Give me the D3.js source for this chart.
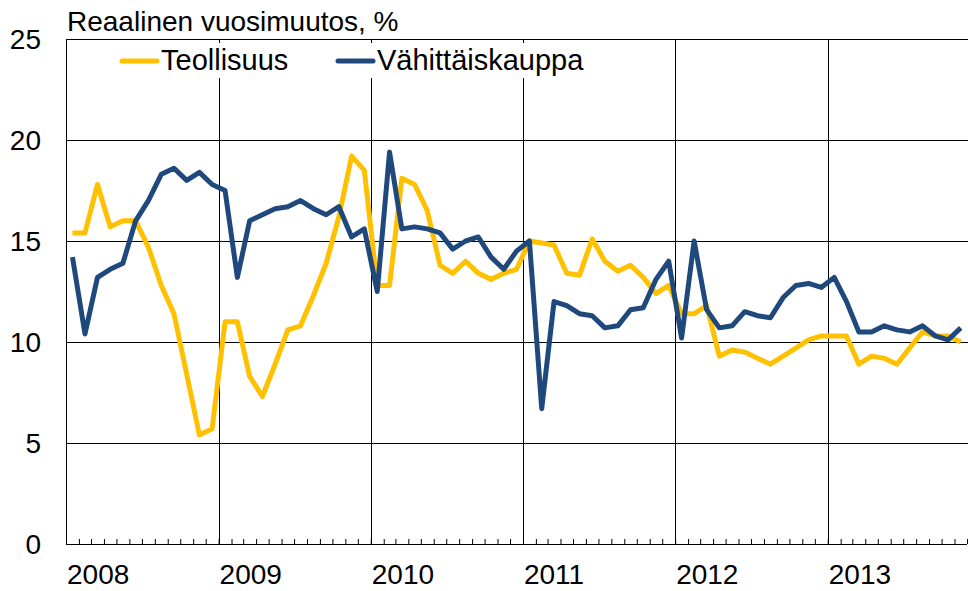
<!DOCTYPE html>
<html>
<head>
<meta charset="utf-8">
<script src="https://cdn.jsdelivr.net/npm/d3@7"></script>
<style>
  body { margin: 0; background: #fff; }
  svg text { font-family: "Liberation Sans", Arial, sans-serif; fill: #000; }
</style>
</head>
<body>
<svg id="chart" width="968" height="591"></svg>
<script>
// monthly data, Jan 2008 - Nov 2013
var startYear = 2008;
var yearLabels = ["2008", "2009", "2010", "2011", "2012", "2013"];
var yTicks = [0, 5, 10, 15, 20, 25];
var seriesNames = ["Teollisuus", "Vähittäiskauppa"];

var teollisuus = [
  15.4, 15.4, 17.8, 15.7, 16.0, 16.0, 14.7, 12.8, 11.4, 8.4, 5.4, 5.7,
  11.0, 11.0, 8.3, 7.3, 8.9, 10.6, 10.8, 12.3, 13.9, 16.2, 19.2, 18.5,
  12.8, 12.8, 18.1, 17.8, 16.5, 13.8, 13.4, 14.0, 13.4, 13.1, 13.4, 13.6,
  15.0, 14.9, 14.8, 13.4, 13.3, 15.1, 14.0, 13.5, 13.8, 13.2, 12.4, 12.8,
  11.4, 11.4, 11.8, 9.3, 9.6, 9.5, 9.2, 8.9, 9.3, 9.7, 10.1, 10.3,
  10.3, 10.3, 8.9, 9.3, 9.2, 8.9, 9.7, 10.5, 10.3, 10.3, 10.0
];

var vahittaiskauppa = [
  14.2, 10.4, 13.2, 13.6, 13.9, 16.0, 17.0, 18.3, 18.6, 18.0, 18.4, 17.8,
  17.5, 13.2, 16.0, 16.3, 16.6, 16.7, 17.0, 16.6, 16.3, 16.7, 15.2, 15.6,
  12.5, 19.4, 15.6, 15.7, 15.6, 15.4, 14.6, 15.0, 15.2, 14.2, 13.6, 14.5,
  15.0, 6.7, 12.0, 11.8, 11.4, 11.3, 10.7, 10.8, 11.6, 11.7, 13.1, 14.0,
  10.2, 15.0, 11.6, 10.7, 10.8, 11.5, 11.3, 11.2, 12.2, 12.8, 12.9, 12.7,
  13.2, 12.0, 10.5, 10.5, 10.8, 10.6, 10.5, 10.8, 10.3, 10.1, 10.7
];

var colors = ["#ffc000", "#1f497d"];

var svg = d3.select("#chart");
var margin = {left: 66, right: 1, top: 39, bottom: 47};
var width = 968 - margin.left - margin.right,
    height = 591 - margin.top - margin.bottom;

var g = svg.append("g")
    .attr("transform", "translate(" + margin.left + "," + margin.top + ")");

var x = d3.scaleTime()
    .domain([new Date(startYear, 0, 1), new Date(startYear, teollisuus.length, 1)])
    .range([0, width]);
var y = d3.scaleLinear().domain([0, 25]).range([height, 0]);

// mid-month positions
var midMonth = function(i) {
  var a = new Date(startYear, i, 1), b = new Date(startYear, i + 1, 1);
  return (x(a) + x(b)) / 2;
};

// horizontal gridlines
g.append("g")
  .selectAll("line")
  .data(yTicks.slice(1))
  .enter().append("line")
    .attr("x1", 0).attr("x2", width + 1)
    .attr("y1", function(d) { return Math.round(y(d)) + 0.5; })
    .attr("y2", function(d) { return Math.round(y(d)) + 0.5; })
    .attr("stroke", "#000").attr("stroke-width", 1);

// vertical year lines
var years = yearLabels.map(function(d) { return new Date(+d, 0, 1); });
g.append("g")
  .selectAll("line")
  .data(years.slice(1))
  .enter().append("line")
    .attr("x1", function(d) { return Math.round(x(d)) + 0.5; })
    .attr("x2", function(d) { return Math.round(x(d)) + 0.5; })
    .attr("y1", 0).attr("y2", height)
    .attr("stroke", "#000").attr("stroke-width", 1);

// x axis with inward month ticks
var xAxis = d3.axisBottom(x)
    .ticks(d3.timeMonth.every(1))
    .tickSize(-5)
    .tickFormat("");
var xg = g.append("g")
    .attr("transform", "translate(0," + height + ")")
    .call(xAxis);
xg.select(".domain").attr("stroke", "#000").attr("d", "M0,0.5H" + width);
xg.selectAll(".tick line").attr("stroke", "#000");

g.append("line")
    .attr("x1", 0.5).attr("x2", 0.5).attr("y1", 0).attr("y2", height)
    .attr("stroke", "#000");

// year labels, left aligned at year start
g.append("g")
  .selectAll("text")
  .data(years)
  .enter().append("text")
    .attr("x", function(d) { return x(d) + 1; })
    .attr("y", height + 40)
    .style("font-size", "28px")
    .text(function(d, i) { return yearLabels[i]; });

// y labels
g.append("g")
  .selectAll("text")
  .data(yTicks)
  .enter().append("text")
    .attr("x", -25)
    .attr("y", function(d) { return y(d); })
    .attr("dy", "0.35em")
    .attr("text-anchor", "end")
    .style("font-size", "28px")
    .text(function(d) { return d; });

// title
svg.append("text")
    .attr("x", 67).attr("y", 31)
    .style("font-size", "28px")
    .text("Reaalinen vuosimuutos, %");

// lines
var line = d3.line()
    .x(function(d, i) { return midMonth(i); })
    .y(function(d) { return y(d); });

[teollisuus, vahittaiskauppa].forEach(function(s, k) {
  g.append("path")
    .datum(s)
    .attr("fill", "none")
    .attr("stroke", colors[k])
    .attr("stroke-width", 5)
    .attr("stroke-linejoin", "round")
    .attr("d", line);
});

// legend
var legend = svg.append("g");
legend.append("rect")
    .attr("x", 110).attr("y", 43).attr("width", 485).attr("height", 35)
    .attr("fill", "#fff");
var legendX = [122, 338];
seriesNames.forEach(function(name, k) {
  legend.append("line")
    .attr("x1", legendX[k]).attr("x2", legendX[k] + 35)
    .attr("y1", 61).attr("y2", 61)
    .attr("stroke", colors[k]).attr("stroke-width", 5)
    .attr("stroke-linecap", "round");
  legend.append("text")
    .attr("x", legendX[k] + 39).attr("y", 70)
    .style("font-size", "29px")
    .text(name);
});
</script>
</body>
</html>
